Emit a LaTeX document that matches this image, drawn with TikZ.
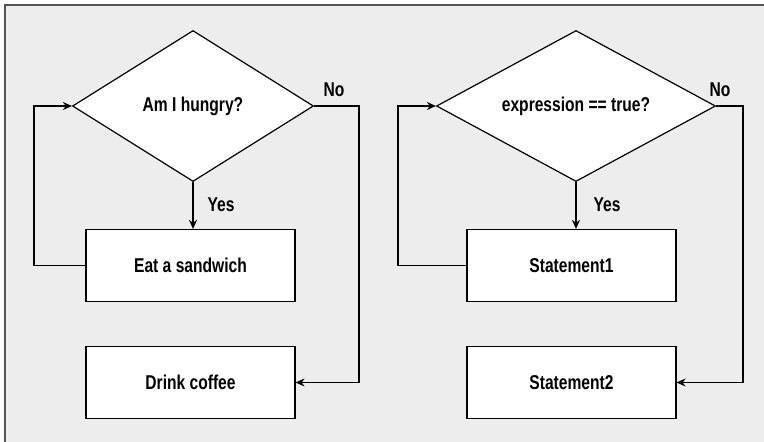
\documentclass[tikz,border=0pt]{standalone}
\usepackage{fontspec}
\setmainfont{Liberation Sans}[FakeStretch=0.78]
\usetikzlibrary{shapes.geometric, arrows.meta}

\definecolor{panelgray}{HTML}{EDEDED}
\definecolor{framegray}{HTML}{555555}

\tikzset{
    flowline/.style={line width=1.2pt, -{Stealth[length=9pt, width=8pt]}},
    stmtbox/.style={draw, line width=1.2pt, fill=white, minimum width=209pt,
        minimum height=72pt, inner sep=0pt, font=\fontsize{20}{24}\selectfont\bfseries},
    testdiamond/.style={draw, diamond, aspect=1.8, line width=1.2pt, fill=white,
        minimum height=151pt, inner sep=0pt, font=\fontsize{20}{24}\selectfont\bfseries},
    branchlabel/.style={font=\fontsize{20}{24}\selectfont\bfseries}
}

\begin{document}
\begin{tikzpicture}[x=1pt, y=-1pt]
            \useasboundingbox (0,0) rectangle (764,442);
            \fill[panelgray] (5,5) rectangle (764,442);
            \draw[framegray, line width=2pt] (5,442) -- (5,5) -- (764,5);

            % left: the everyday example
            \node[testdiamond, minimum width=241pt] (hungry) at (193,106) {Am I hungry?};
            \node[stmtbox] (eat) at (190.5,265.5) {Eat a sandwich};
            \node[stmtbox] (coffee) at (190.5,382.5) {Drink coffee};
            \coordinate (loopA) at (34,0);
            \coordinate (exitA) at (359,0);

            \draw[flowline] (hungry.south) -- (hungry.south |- eat.north);
            \draw[flowline] (eat.west) -| (loopA |- hungry.west) -- (hungry.west);
            \draw[flowline] (hungry.east) -| (exitA |- coffee.east) -- (coffee.east);
            \node[branchlabel] (yesA) at (221,205) {Yes};
            \node[branchlabel] (noA) at (334,90) {No};

            % right: the same with code
            \node[testdiamond, minimum width=279pt] (test) at (576,106) {expression == true?};
            \node[stmtbox] (stmtA) at (571.5,265.5) {Statement1};
            \node[stmtbox] (stmtB) at (571.5,382.5) {Statement2};
            \coordinate (loopB) at (398,0);
            \coordinate (exitB) at (743,0);

            \draw[flowline] (test.south) -- (test.south |- stmtA.north);
            \draw[flowline] (stmtA.west) -| (loopB |- test.west) -- (test.west);
            \draw[flowline] (test.east) -| (exitB |- stmtB.east) -- (stmtB.east);
            \node[branchlabel] (yesB) at (607,205) {Yes};
            \node[branchlabel] (noB) at (720,90) {No};
        \end{tikzpicture}
\end{document}
